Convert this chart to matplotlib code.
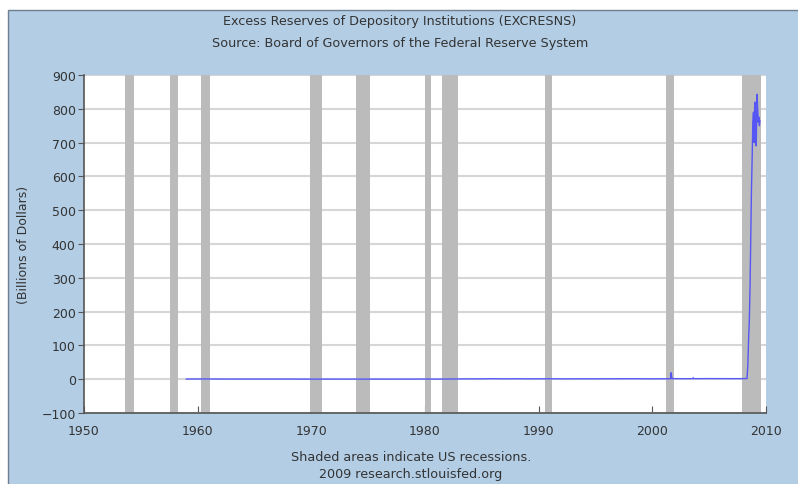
import matplotlib
matplotlib.use("Agg")
import matplotlib.pyplot as plt
from matplotlib.patches import Rectangle

# recession periods (start, end) in decimal years
rec_start = [1953.6, 1957.6, 1960.3, 1969.9, 1973.9, 1980.0, 1981.5, 1990.6, 2001.2, 2007.9]
rec_end = [1954.4, 1958.3, 1961.1, 1970.9, 1975.2, 1980.5, 1982.9, 1991.2, 2001.9, 2009.55]

# excess reserves, billions of dollars
years = [1959.0, 1960.0, 1961.0, 1962.0, 1963.0, 1964.0, 1965.0, 1966.0, 1967.0, 1968.0,
         1969.0, 1970.0, 1971.0, 1972.0, 1973.0, 1974.0, 1975.0, 1976.0, 1977.0, 1978.0,
         1979.0, 1980.0, 1981.0, 1982.0, 1983.0, 1984.0, 1985.0, 1986.0, 1987.0, 1988.0,
         1989.0, 1990.0, 1991.0, 1992.0, 1993.0, 1994.0, 1995.0, 1996.0, 1997.0, 1998.0,
         1999.0, 2000.0, 2001.0, 2001.60, 2001.66, 2001.72, 2002.0, 2003.0, 2003.55,
         2003.6, 2003.65, 2004.0, 2005.0, 2006.0, 2007.0, 2008.0, 2008.33,
         2008.40, 2008.47, 2008.53, 2008.60, 2008.66, 2008.72, 2008.78, 2008.84,
         2008.90, 2008.95, 2009.00, 2009.05, 2009.10, 2009.14, 2009.18, 2009.22,
         2009.27, 2009.32, 2009.38, 2009.42, 2009.46]
reserves = [0.4, 0.7, 0.6, 0.5, 0.4, 0.4, 0.4, 0.4, 0.4, 0.4,
            0.3, 0.2, 0.3, 0.3, 0.2, 0.3, 0.2, 0.3, 0.2, 0.3,
            0.3, 0.5, 0.3, 0.5, 0.8, 1.0, 1.0, 1.4, 1.0, 1.3,
            1.0, 1.1, 1.2, 1.0, 1.0, 1.1, 1.0, 1.2, 1.3, 1.4,
            1.3, 1.0, 1.3, 1.3, 19.0, 1.5, 1.6, 1.4, 1.5,
            4.5, 1.5, 1.6, 1.8, 1.7, 1.6, 1.7, 2.0,
            40.0, 120.0, 170.0, 280.0, 420.0, 560.0, 650.0, 760.0,
            790.0, 700.0, 800.0, 820.0, 720.0, 690.0, 780.0, 843.0,
            800.0, 760.0, 775.0, 750.0, 765.0]

x_ticks = [1950, 1960, 1970, 1980, 1990, 2000, 2010]
y_ticks = [-100, 0, 100, 200, 300, 400, 500, 600, 700, 800, 900]

W, H = 798, 485
fig = plt.figure(figsize=(W / 100, H / 100), dpi=100)
fig.patch.set_facecolor("white")

panel = Rectangle((8 / W, -0.01), 1.0, 1 - 11 / H + 0.01, transform=fig.transFigure,
                  facecolor="#b3cde5", edgecolor="#6f7f8f", linewidth=1.0, zorder=-5)
fig.patches.append(panel)

txt = "#333333"
ax = fig.add_axes([84 / W, (H - 414) / H, (766 - 84) / W, (414 - 76) / H])
ax.set_facecolor("white")

for s, e in zip(rec_start, rec_end):
    ax.axvspan(s, e, color="#bbbbbb", lw=0, zorder=2)

ax.plot(years, reserves, color="#4444ff", lw=1.0, alpha=0.85, zorder=3)

ax.set_xlim(1950, 2010)
ax.set_ylim(-100, 900)
ax.set_xticks(x_ticks)
ax.set_yticks(y_ticks)
ax.grid(axis="y", color="#d6d6d6", lw=1.5, zorder=1)
ax.set_axisbelow(True)

for side in ["top", "right"]:
    ax.spines[side].set_visible(False)
for side in ["left", "bottom"]:
    ax.spines[side].set_color("#555555")
    ax.spines[side].set_linewidth(1.2)

ax.tick_params(axis="x", direction="in", length=5, color="#555555", labelsize=9,
               labelcolor=txt, pad=8)
ax.tick_params(axis="y", direction="out", length=4, color="#555555", labelsize=9,
               labelcolor=txt, pad=2)

ax.set_ylabel("(Billions of Dollars)", fontsize=9, color=txt, labelpad=8)

fig.text(400 / W, 1 - 22 / H, "Excess Reserves of Depository Institutions (EXCRESNS)",
         ha="center", va="center", fontsize=9.2, color=txt)
fig.text(400 / W, 1 - 44 / H, "Source: Board of Governors of the Federal Reserve System",
         ha="center", va="center", fontsize=9.2, color=txt)
fig.text(411 / W, 1 - 458 / H, "Shaded areas indicate US recessions.",
         ha="center", va="center", fontsize=9.2, color=txt)
fig.text(411 / W, 1 - 475 / H, "2009 research.stlouisfed.org",
         ha="center", va="center", fontsize=9.2, color=txt)

fig.savefig("out.png", dpi=100)
